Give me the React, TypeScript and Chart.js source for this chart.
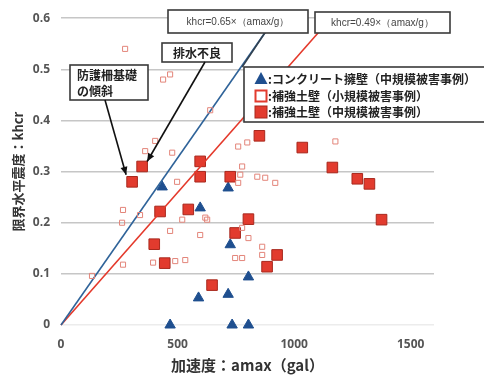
import { useEffect, useRef } from 'react';
import { Chart, registerables } from 'chart.js';

Chart.register(...registerables);

// Concrete retaining walls (medium-scale damage) - blue triangles
const concreteX = [434, 597, 717, 726, 804, 717, 590, 468, 734, 804];
const concreteY = [0.27, 0.229, 0.268, 0.157, 0.094, 0.06, 0.053, 0, 0, 0];

// Reinforced soil walls (small-scale damage) - hollow squares
const smallX = [275, 438, 468, 640, 404, 361, 477, 498, 266, 262, 339, 468, 520, 627, 597, 747, 777, 266, 395, 490, 533, 133, 760, 799, 777, 769, 842, 876, 919, 760, 1177, 619, 777, 804, 863, 863];
const smallY = [0.54, 0.48, 0.49, 0.42, 0.36, 0.34, 0.337, 0.28, 0.225, 0.2, 0.215, 0.184, 0.206, 0.206, 0.176, 0.131, 0.131, 0.118, 0.122, 0.125, 0.127, 0.096, 0.349, 0.357, 0.31, 0.294, 0.29, 0.288, 0.278, 0.278, 0.359, 0.21, 0.19, 0.17, 0.153, 0.137];

// Reinforced soil walls (medium-scale damage) - filled squares
const mediumX = [305, 348, 597, 597, 726, 851, 1035, 1164, 1271, 1323, 1375, 425, 546, 400, 445, 648, 804, 747, 927, 884];
const mediumY = [0.28, 0.31, 0.32, 0.29, 0.29, 0.37, 0.347, 0.308, 0.286, 0.276, 0.206, 0.222, 0.226, 0.158, 0.121, 0.078, 0.207, 0.18, 0.137, 0.114];

// Reference lines khcr = k * (amax / g)
const line065X = [0, 880];
const line065Y = [0, 0.575];
const line049X = [0, 1110];
const line049Y = [0, 0.575];

const xTicks = [0, 500, 1000, 1500];
const yTicks = [0, 0.1, 0.2, 0.3, 0.4, 0.5, 0.6];

const legendLabels = [
  ':コンクリート擁壁（中規模被害事例）',
  ':補強土壁（小規模被害事例）',
  ':補強土壁（中規模被害事例）',
];
const line065Label = 'khcr=0.65×（amax/g）';
const line049Label = 'khcr=0.49×（amax/g）';
const note1 = '排水不良';
const note2 = ['防護柵基礎', 'の傾斜'];
const xTitle = '加速度：amax（gal）';
const yTitle = '限界水平震度：khcr';

const pts = (xs: number[], ys: number[]) => xs.map((x, i) => ({ x, y: ys[i] }));

const BLUE = '#1f4f8f';
const RED = '#e23b2e';
const RED_DARK = '#a8281d';
const PINK = '#e3857a';
const JP = '"Noto Sans CJK JP", "Noto Sans", sans-serif';

function arrow(ctx: CanvasRenderingContext2D, x1: number, y1: number, x2: number, y2: number) {
  ctx.beginPath();
  ctx.moveTo(x1, y1);
  ctx.lineTo(x2, y2);
  ctx.strokeStyle = '#111';
  ctx.lineWidth = 1.6;
  ctx.stroke();
  const a = Math.atan2(y2 - y1, x2 - x1);
  const L = 8, W = 3.5;
  ctx.beginPath();
  ctx.moveTo(x2, y2);
  ctx.lineTo(x2 - L * Math.cos(a) + W * Math.sin(a), y2 - L * Math.sin(a) - W * Math.cos(a));
  ctx.lineTo(x2 - L * Math.cos(a) - W * Math.sin(a), y2 - L * Math.sin(a) + W * Math.cos(a));
  ctx.closePath();
  ctx.fillStyle = '#111';
  ctx.fill();
}

function box(ctx: CanvasRenderingContext2D, x: number, y: number, w: number, h: number) {
  ctx.fillStyle = '#fff';
  ctx.fillRect(x, y, w, h);
  ctx.strokeStyle = '#3a3a3a';
  ctx.lineWidth = 1.6;
  ctx.strokeRect(x, y, w, h);
}

const annotations = {
  id: 'annotations',
  afterDatasetsDraw(chart: any) {
    const ctx: CanvasRenderingContext2D = chart.ctx;
    const xs = chart.scales.x;
    const ys = chart.scales.y;
    ctx.save();

    // connector from 0.65 line to its label
    const bx = xs.getPixelForValue(line065X[1]);
    const by = ys.getPixelForValue(line065Y[1]);
    ctx.beginPath();
    ctx.moveTo(bx - 24, by + 36);
    ctx.lineTo(bx, by);
    ctx.strokeStyle = '#33414f';
    ctx.lineWidth = 1.5;
    ctx.stroke();

    // formula label boxes
    box(ctx, 168, 10, 140, 23);
    box(ctx, 315, 12, 135, 21);
    ctx.fillStyle = '#444';
    ctx.font = '10px "Liberation Sans", sans-serif';
    ctx.textAlign = 'center';
    ctx.textBaseline = 'middle';
    ctx.fillText(line065Label, 238, 22);
    ctx.fillText(line049Label, 382.5, 23);

    // note: drainage
    box(ctx, 162, 43, 70, 19);
    ctx.fillStyle = '#222';
    ctx.font = 'bold 12px ' + JP;
    ctx.fillText(note1, 197, 53);
    arrow(ctx, 205, 62, xs.getPixelForValue(mediumX[1]) + 5, ys.getPixelForValue(mediumY[1]) - 5);

    // note: fence foundation tilt
    box(ctx, 70, 65, 78, 35);
    ctx.fillStyle = '#222';
    ctx.font = 'bold 12px ' + JP;
    ctx.textAlign = 'left';
    ctx.fillText(note2[0], 77, 75);
    ctx.fillText(note2[1], 77, 91);
    arrow(ctx, 105, 100, xs.getPixelForValue(mediumX[0]) - 6, ys.getPixelForValue(mediumY[0]) - 7);

    // legend
    const lx = 244, ly = 67, lw = 250, lh = 55;
    box(ctx, lx, ly, lw, lh);
    const rows = [79, 96, 112];
    const mx = 261;
    // triangle
    ctx.beginPath();
    ctx.moveTo(mx, rows[0] - 7);
    ctx.lineTo(mx + 6.5, rows[0] + 5);
    ctx.lineTo(mx - 6.5, rows[0] + 5);
    ctx.closePath();
    ctx.fillStyle = BLUE;
    ctx.fill();
    // hollow square
    ctx.strokeStyle = RED;
    ctx.lineWidth = 2;
    ctx.strokeRect(mx - 5.5, rows[1] - 5.5, 11, 11);
    // filled square
    ctx.fillStyle = RED;
    ctx.fillRect(mx - 6, rows[2] - 6, 12, 12);
    ctx.strokeStyle = RED_DARK;
    ctx.lineWidth = 1;
    ctx.strokeRect(mx - 6, rows[2] - 6, 12, 12);

    ctx.fillStyle = '#222';
    ctx.font = 'bold 12px ' + JP;
    ctx.textAlign = 'left';
    ctx.textBaseline = 'middle';
    legendLabels.forEach((t, i) => ctx.fillText(t, 268, rows[i]));

    ctx.restore();
  },
};

export default function App() {
  const ref = useRef<HTMLCanvasElement>(null);
  useEffect(() => {
    if (!ref.current) return;
    const chart = new Chart(ref.current, {
      type: 'scatter',
      data: {
        datasets: [
          {
            label: 'small',
            data: pts(smallX, smallY),
            pointStyle: 'rect',
            pointRadius: 3.6,
            backgroundColor: 'rgba(255,255,255,0)',
            borderColor: PINK,
            borderWidth: 1,
            clip: false,
          },
          {
            label: '0.65',
            data: pts(line065X, line065Y),
            showLine: true,
            pointRadius: 0,
            borderColor: '#2f6399',
            borderWidth: 1.6,
            clip: false,
          },
          {
            label: '0.49',
            data: pts(line049X, line049Y),
            showLine: true,
            pointRadius: 0,
            borderColor: '#e4392b',
            borderWidth: 1.6,
            clip: false,
          },
          {
            label: 'medium',
            data: pts(mediumX, mediumY),
            pointStyle: 'rect',
            pointRadius: 7.5,
            backgroundColor: RED,
            borderColor: RED_DARK,
            borderWidth: 1,
            clip: false,
          },
          {
            label: 'concrete',
            data: pts(concreteX, concreteY),
            pointStyle: 'triangle',
            pointRadius: 6,
            backgroundColor: BLUE,
            borderColor: BLUE,
            borderWidth: 1,
            clip: false,
          },
        ] as any,
      },
      options: {
        animation: false,
        responsive: false,
        maintainAspectRatio: false,
        layout: { padding: { top: 18, right: 50, left: 0, bottom: 0 } },
        plugins: { legend: { display: false }, tooltip: { enabled: false } },
        scales: {
          x: {
            type: 'linear',
            min: 0,
            max: 1600,
            afterFit: (s: any) => { s.height = 51; },
            afterBuildTicks: (s: any) => { s.ticks = xTicks.map((v) => ({ value: v })); },
            grid: { display: false, drawTicks: false },
            border: { display: false },
            ticks: {
              padding: 12,
              color: '#555',
              font: { family: '"Open Sans", sans-serif', size: 12, weight: 'bold' },
              callback: (v: any) => String(v),
            },
            title: {
              display: true,
              text: xTitle,
              color: '#333',
              padding: { top: 0, bottom: 2 },
              font: { family: JP, size: 15, weight: 'bold' },
            },
          },
          y: {
            min: 0,
            max: 0.6,
            afterFit: (s: any) => { s.width = 61; },
            afterBuildTicks: (s: any) => { s.ticks = yTicks.map((v) => ({ value: v })); },
            grid: {
              drawTicks: false,
              color: (c: any) => (c.tick && c.tick.value === 0 ? '#ececec' : '#c6c6c6'),
              lineWidth: 1.6,
            },
            border: { display: false },
            ticks: {
              padding: 11,
              color: '#555',
              font: { family: '"Open Sans", sans-serif', size: 12, weight: 'bold' },
              callback: (v: any) => (v === 0 ? '0' : Number(v).toFixed(1)),
            },
            title: {
              display: true,
              text: yTitle,
              color: '#333',
              padding: { top: 10, bottom: 0 },
              font: { family: JP, size: 13, weight: 'bold' },
            },
          },
        },
      } as any,
      plugins: [annotations],
    });
    return () => chart.destroy();
  }, []);
  return (
    <div style={{ position: 'fixed', left: 0, top: 0, width: 484, height: 376, background: '#fff' }}>
      <canvas ref={ref} width={484} height={376} style={{ width: 484, height: 376, display: 'block' }} />
    </div>
  );
}
